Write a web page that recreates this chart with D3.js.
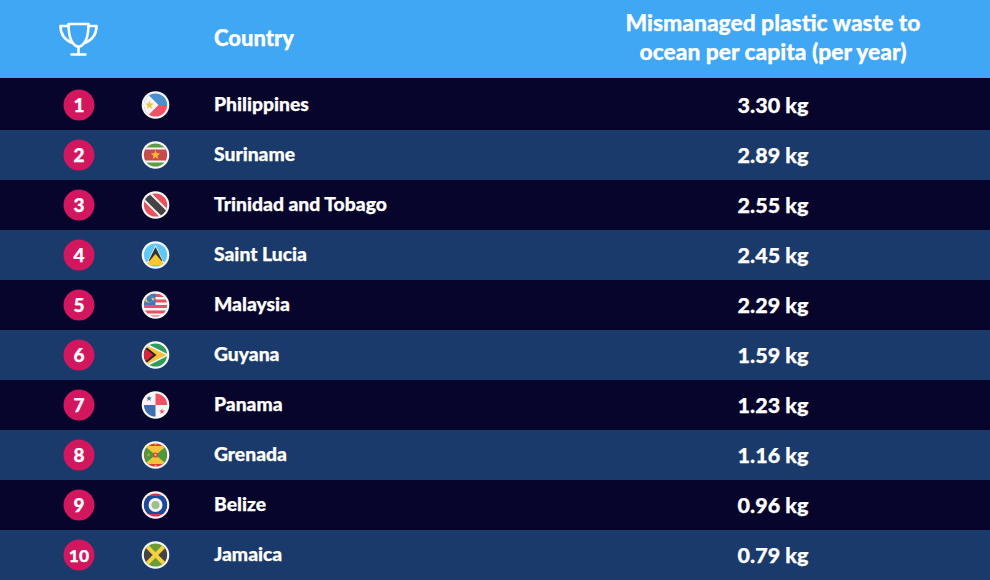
<!DOCTYPE html>
<html><head><meta charset="utf-8">
<script src="https://cdnjs.cloudflare.com/ajax/libs/d3/7.8.5/d3.min.js"></script>
<style>html,body{margin:0;padding:0;background:#07052b}svg{display:block}
text{font-family:Lato,"Open Sans",sans-serif;font-weight:900;fill:#fff;stroke:#fff;stroke-width:.25px}</style></head>
<body><svg id="c" width="990" height="580"></svg>
<script>
const ranks=[1,2,3,4,5,6,7,8,9,10];
const countries=["Philippines","Suriname","Trinidad and Tobago","Saint Lucia","Malaysia","Guyana","Panama","Grenada","Belize","Jamaica"];
const values=[3.30,2.89,2.55,2.45,2.29,1.59,1.23,1.16,0.96,0.79];
const flagKeys=["ph","sr","tt","lc","my","gy","pa","gd","bz","jm"];
const headerCountry="Country";
const headerValue=["Mismanaged plastic waste to","ocean per capita (per year)"];

const svg=d3.select("#c");
const y=d3.scaleBand().domain(ranks).range([80,580]);
const W=990,cxRank=79,cxFlag=155.5,xName=214,cxVal=773;
svg.append("rect").attr("width",W).attr("height",78).attr("fill","#3fa7f4");
svg.append("rect").attr("y",78).attr("width",W).attr("height",52).attr("fill","#07052b");
const row=svg.selectAll("g.row").data(ranks).join("g").attr("class","row")
  .attr("transform",d=>`translate(0,${y(d)})`);
row.append("rect").attr("width",W).attr("height",y.bandwidth())
  .attr("fill",d=>d%2?"#07052b":"#1a3a6b");
const cy=25;
row.append("circle").attr("cx",cxRank).attr("cy",cy).attr("r",15.5).attr("fill","#d2175f");
row.append("text").attr("x",cxRank).attr("y",cy+6.5).attr("text-anchor","middle")
  .attr("font-size",d=>d==10?17.5:19).text(d=>d);
row.append("text").attr("x",xName).attr("y",cy+5.5).attr("font-size",19.3)
  .text((d,i)=>countries[i]);
row.append("text").attr("x",cxVal).attr("y",cy+7.5).attr("text-anchor","middle").attr("font-size",21.5)
  .text((d,i)=>values[i].toFixed(2)+" kg");
// header text
svg.append("text").attr("x",xName).attr("y",45.5).attr("font-size",22).text(headerCountry);
svg.selectAll("text.h").data(headerValue).join("text").attr("class","h").attr("x",773)
  .attr("y",(d,i)=>31+i*29).attr("text-anchor","middle").attr("font-size",22.8).text(d=>d);
// trophy
const t=svg.append("g").attr("transform","translate(78.5,39)").attr("fill","none").attr("stroke","#fff")
  .attr("stroke-width",2.6).attr("stroke-linejoin","round").attr("stroke-linecap","round");
t.append("path").attr("d","M-10,-15 H10 C10,-2 7,6 0,8 C-7,6 -10,-2 -10,-15Z");
t.append("path").attr("d","M-10,-13 H-18 C-18,-4 -14,1 -6,4");
t.append("path").attr("d","M10,-13 H18 C18,-4 14,1 6,4");
t.append("path").attr("d","M0,8 V15 M-7,15.5 H7");
// flags: each is drawn in a unit box -14..14
function band(g,yy,h,c){g.append("rect").attr("x",-14).attr("y",yy).attr("width",28).attr("height",h).attr("fill",c)}
function poly(g,p,c){g.append("path").attr("d",p).attr("fill",c)}
function star(g,x,y,r,c){const a=d3.range(10).map(i=>{const q=i*Math.PI/5-Math.PI/2,R=i%2?r*.42:r;return [x+R*Math.cos(q),y+R*Math.sin(q)]});
  g.append("path").attr("d","M"+a.join("L")+"Z").attr("fill",c)}
const flags={
 ph(g){band(g,-14,14,"#4a90cf");band(g,0,14,"#ee5264");poly(g,"M-14,-14 L-11,-14 L3,0 L-11,14 L-14,14Z","#f5f5f5");star(g,-6,0,4.5,"#f5c33b")},
 sr(g){band(g,-14,28,"#5f9a45");band(g,-7.5,15,"#f5f5f5");band(g,-5.5,11,"#c94a4a");star(g,0,0,5,"#f7b733")},
 tt(g){band(g,-14,28,"#e8525f");g.append("line").attr("x1",-12).attr("y1",-12).attr("x2",12).attr("y2",12).attr("stroke","#f5f5f5").attr("stroke-width",11);g.append("line").attr("x1",-12).attr("y1",-12).attr("x2",12).attr("y2",12).attr("stroke","#444").attr("stroke-width",7)},
 lc(g){band(g,-14,28,"#5fc8f5");poly(g,"M0,-10 L9.5,10 H-9.5Z","#f5f5f5");poly(g,"M0,-8 L7,6 H-7Z","#333");poly(g,"M0,-1 L9.5,10 H-9.5Z","#fcc62d")},
 my(g){band(g,-14,28,"#f5f5f5");[-11,-5.5,0,5.5,10.5].forEach(v=>band(g,v,3,"#e8525f"));g.append("rect").attr("x",-14).attr("y",-14).attr("width",14).attr("height",14).attr("fill","#3d7ac4");
   g.append("circle").attr("cx",-7).attr("cy",-6).attr("r",3.6).attr("fill","#f5c33b");g.append("circle").attr("cx",-5.8).attr("cy",-6).attr("r",3).attr("fill","#3d7ac4");star(g,-2.5,-6,2.2,"#f5c33b")},
 gy(g){band(g,-14,28,"#2f9c5e");poly(g,"M-14,-14 L14,0 L-14,14Z","#f5f5f5");poly(g,"M-14,-12 L11,0 L-14,12Z","#f5c33b");poly(g,"M-13,-11 L1,0 L-13,11Z","#222");poly(g,"M-13,-9 L-2,0 L-13,9Z","#d8243f")},
 pa(g){band(g,-14,28,"#f5f5f5");g.append("rect").attr("x",0).attr("y",-14).attr("width",14).attr("height",14).attr("fill","#ee5264");g.append("rect").attr("x",-14).attr("y",0).attr("width",14).attr("height",14).attr("fill","#3d6fae");star(g,-6.5,-6.5,3,"#3d6fae");star(g,6.5,6.5,3,"#ee5264")},
 gd(g){band(g,-14,28,"#d63a3a");g.append("rect").attr("x",-11).attr("y",-9).attr("width",22).attr("height",18).attr("fill","#4c9a3c");poly(g,"M-11,-9 H11 L0,0Z","#f5c33b");poly(g,"M-11,9 H11 L0,0Z","#f5c33b");g.append("circle").attr("r",2.6).attr("fill","#d63a3a");star(g,0,0,2,"#f5c33b");star(g,0,-11,1.7,"#f5c33b");star(g,0,11,1.7,"#f5c33b");star(g,-7,0,2,"#d8a22a")},
 bz(g){band(g,-14,28,"#d8304a");band(g,-9,18,"#1b4a9c");g.append("circle").attr("r",7).attr("fill","#f5f5f5");g.append("circle").attr("r",4).attr("fill","#9cbf8c")},
 jm(g){band(g,-14,28,"#6b9c3a");poly(g,"M-14,-14 L0,0 L-14,14Z","#444");poly(g,"M14,-14 L0,0 L14,14Z","#444");g.append("path").attr("d","M-12,-12 L12,12 M12,-12 L-12,12").attr("stroke","#f7d13d").attr("stroke-width",4)}
};
svg.append("defs").append("clipPath").attr("id","fc").append("circle").attr("r",11.6);
row.each(function(d,i){
  const g=d3.select(this).append("g").attr("transform",`translate(${cxFlag},${cy})`);
  g.append("circle").attr("r",13.8).attr("fill","#f7f7f7");
  flags[flagKeys[i]](g.append("g").attr("clip-path","url(#fc)"));
});
</script></body></html>
